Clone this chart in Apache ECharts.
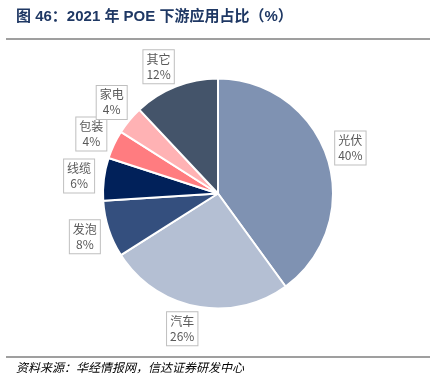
<!DOCTYPE html>
<html><head><meta charset="utf-8">
<script src="https://cdn.jsdelivr.net/npm/echarts@6/dist/echarts.min.js"></script>
<style>html,body{margin:0;padding:0;background:#fff}#c{width:439px;height:387px}</style>
</head><body><div id="c"></div>
<script>
const categories = ['光伏','汽车','发泡','线缆','包装','家电','其它'];
const values = [40,26,8,6,4,4,12];
const colors = ['#7F92B2','#B4BFD3','#344F7E','#01215A','#FF7C80','#FFB2B4','#44546A'];
const titleText = '图 46：2021 年 POE 下游应用占比（%）';
const sourceText = '资料来源：华经情报网，信达证券研发中心';

// label placement styling: small angular nudges (degrees) per label
const labelNudgeDeg = [-1, 4, 0, 0, 0, 1, -3.5];
const CX = 218, CY = 193.5, R = 115, LABEL_R = 140;
const total = values.reduce((a,b)=>a+b,0);
const midAngles = [];
{ let acc = 0; values.forEach(v=>{ midAngles.push((acc + v/2)/total*2*Math.PI); acc += v; }); }

const chart = echarts.init(document.getElementById('c'));
chart.setOption({
  animation:false,
  graphic:[
    {type:'text',left:16,top:9,style:{text:titleText,font:'bold 15px "Liberation Sans","Noto Sans CJK SC"',fill:'#1F3864'}},
    {type:'line',shape:{x1:6,y1:39,x2:430,y2:39},style:{stroke:'#7f7f7f',lineWidth:1.5}},
    {type:'line',shape:{x1:6,y1:357,x2:430,y2:357},style:{stroke:'#7f7f7f',lineWidth:1.5}},
    {type:'text',left:16,top:361,style:{text:sourceText,font:'italic 12px "Noto Sans CJK SC"',fill:'#000'}}
  ],
  series:[{
    type:'pie',
    center:[CX,CY],
    radius:R,
    startAngle:90,
    clockwise:true,
    avoidLabelOverlap:false,
    data:categories.map((n,i)=>({name:n,value:values[i],itemStyle:{color:colors[i]}})),
    itemStyle:{borderColor:'#fff',borderWidth:2},
    label:{
      show:true,position:'outside',
      formatter:'{b}\n{c}%',
      color:'#595959',fontSize:12,lineHeight:15,
      fontFamily:'"Noto Sans CJK SC"',
      align:'center',
      backgroundColor:'#fff',borderColor:'#bfbfbf',borderWidth:1,
      padding:[2,3,1,3]
    },
    labelLine:{show:false},
    labelLayout:function(p){
      const a = midAngles[p.dataIndex] + labelNudgeDeg[p.dataIndex]*Math.PI/180;
      return {x: CX + LABEL_R*Math.sin(a), y: CY - LABEL_R*Math.cos(a), align:'center', verticalAlign:'middle'};
    }
  }]
});
</script></body></html>
